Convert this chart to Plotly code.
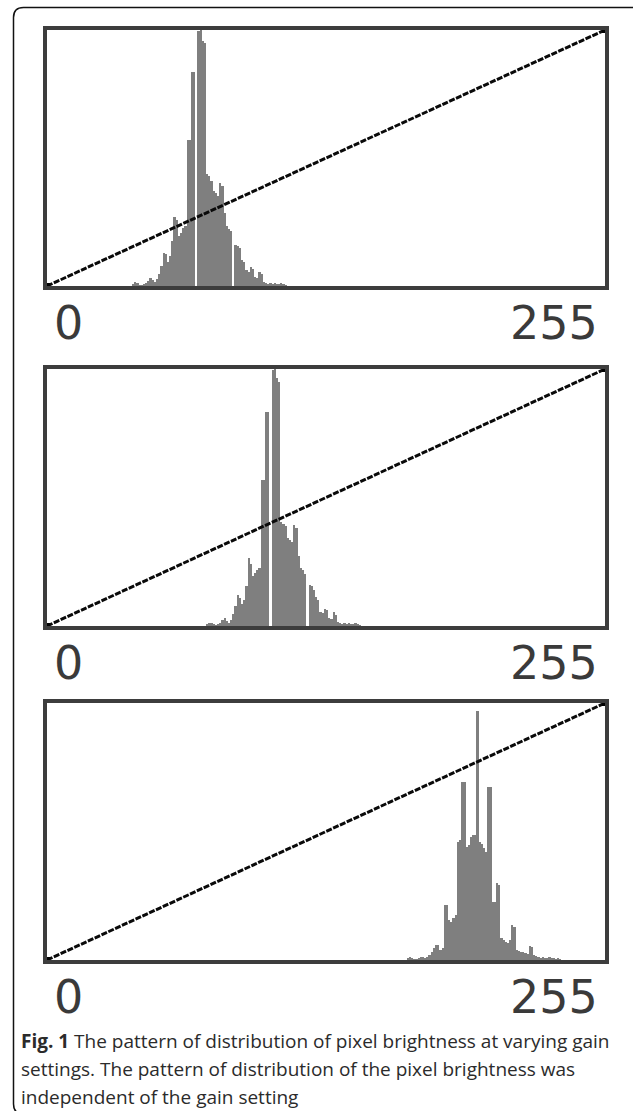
import plotly.graph_objects as go

W, H = 633, 1111

# Histogram heights (relative counts, plot scale 0..256)
P1_START = 38
P1_COUNTS = [0, 2, 4, 3, 1, 1, 2, 3, 5, 8, 6, 4, 7, 12, 20, 33, 32, 24, 30, 45,
             69, 66, 50, 53, 58, 60, 146, 146, 214, 214, 0, 255, 256, 245, 243, 112,
             110, 105, 95, 93, 90, 103, 100, 73, 60, 57, 55, 0, 41, 40, 38, 26, 24,
             16, 14, 19, 17, 9, 8, 14, 12, 4, 3, 2, 3, 2, 3, 2, 2, 3, 2, 1]

P2_START = 72
P2_COUNTS = [0, 2, 3, 3, 2, 1, 2, 3, 6, 8, 5, 3, 6, 12, 20, 31, 28, 22, 26, 40,
             68, 62, 50, 53, 56, 58, 145, 145, 213, 213, 0, 255, 256, 247, 243, 104,
             102, 100, 88, 86, 84, 101, 98, 70, 58, 56, 52, 0, 41, 40, 36, 29, 26,
             14, 13, 17, 16, 8, 7, 14, 11, 4, 3, 2, 3, 2, 3, 2, 2, 3, 2, 1]

P3_START = 164
P3_COUNTS = [0, 2, 3, 2, 1, 1, 2, 3, 3, 2, 3, 5, 8, 12, 15, 15, 10, 12, 55, 55,
             40, 38, 42, 45, 118, 120, 177, 177, 113, 115, 123, 125, 125, 248, 118,
             116, 112, 108, 172, 172, 58, 58, 77, 75, 22, 20, 18, 17, 20, 35, 33, 10,
             9, 8, 8, 7, 6, 14, 13, 5, 4, 3, 2, 3, 2, 2, 3, 2, 2, 1, 2, 1]

PANELS = [(P1_START, P1_COUNTS), (P2_START, P2_COUNTS), (P3_START, P3_COUNTS)]

X_MIN, X_MAX = 0, 255
Y_MAX = 256
X_LABELS = ["0", "255"]
DIAG_X = [X_MIN - 0.5, X_MAX + 0.5]
DIAG_Y = [0, Y_MAX]

CAPTION = [
    "<b>Fig. 1</b> The pattern of distribution of pixel brightness at varying gain",
    "settings. The pattern of distribution of the pixel brightness was",
    "independent of the gain setting",
]

# layout in pixels
X_LEFT, X_RIGHT = 47, 605
PANEL_Y = [(30, 286), (369, 626), (703, 960)]

def px_x(x):
    return x / W

def px_y(y):
    return 1 - y / H

fig = go.Figure()

for i, (start, counts) in enumerate(PANELS):
    idx = "" if i == 0 else str(i + 1)
    xs = list(range(start, start + len(counts)))
    fig.add_trace(go.Bar(x=xs, y=counts, marker=dict(color="#7f7f7f", line=dict(width=0)),
                         xaxis="x" + idx, yaxis="y" + idx, showlegend=False,
                         hoverinfo="skip"))
    fig.add_trace(go.Scatter(x=DIAG_X, y=DIAG_Y, mode="lines+markers",
                             line=dict(color="#0a0a0a", width=3, dash="6px,1.5px"),
                             marker=dict(color="#000", size=6, symbol="square"),
                             xaxis="x" + idx, yaxis="y" + idx, showlegend=False,
                             hoverinfo="skip", cliponaxis=False))
    top, bot = PANEL_Y[i]
    axis_common = dict(showgrid=False, zeroline=False, showticklabels=False, ticks="",
                       showline=True, mirror=True, linewidth=3.5, linecolor="#3d3d3d",
                       fixedrange=True)
    fig.layout["xaxis" + idx] = dict(domain=[px_x(X_LEFT), px_x(X_RIGHT)],
                                     range=[X_MIN - 0.5, X_MAX + 0.5],
                                     anchor="y" + idx, **axis_common)
    fig.layout["yaxis" + idx] = dict(domain=[px_y(bot), px_y(top)], range=[0, Y_MAX],
                                     anchor="x" + idx, **axis_common)
    label_y = px_y(bot + 37)
    fig.add_annotation(text=X_LABELS[0], xref="paper", yref="paper", x=px_x(52),
                       y=label_y, xanchor="left", yanchor="middle", showarrow=False,
                       font=dict(family="DejaVu Sans", size=46, color="#3a3a3a"))
    fig.add_annotation(text=X_LABELS[1], xref="paper", yref="paper", x=px_x(600),
                       y=label_y, xanchor="right", yanchor="middle", showarrow=False,
                       font=dict(family="DejaVu Sans", size=46, color="#3a3a3a"))

for j, line in enumerate(CAPTION):
    fig.add_annotation(text=line, xref="paper", yref="paper", x=px_x(19),
                       y=px_y(1041 + 28 * j), xanchor="left", yanchor="middle",
                       showarrow=False, align="left",
                       font=dict(family="Open Sans", size=19, color="#2b2b2b"))

# outer rounded frame
r = 10
path = (f"M {px_x(700)},{px_y(7.5)} L {px_x(13.5 + r)},{px_y(7.5)} "
        f"Q {px_x(13.5)},{px_y(7.5)} {px_x(13.5)},{px_y(7.5 + r)} "
        f"L {px_x(13.5)},{px_y(1104)} Q {px_x(13.5)},{px_y(1114)} {px_x(13.5 + r)},{px_y(1114)} "
        f"L {px_x(700)},{px_y(1114)}")
fig.add_shape(type="path", path=path, xref="paper", yref="paper",
              line=dict(color="#111", width=1.5))

fig.update_layout(width=W, height=H, margin=dict(l=0, r=0, t=0, b=0),
                  paper_bgcolor="white", plot_bgcolor="white", bargap=0)

fig.write_html("out.html", config={"displayModeBar": False},
               post_script="document.body.style.margin='0px';document.body.style.overflow='hidden';")
